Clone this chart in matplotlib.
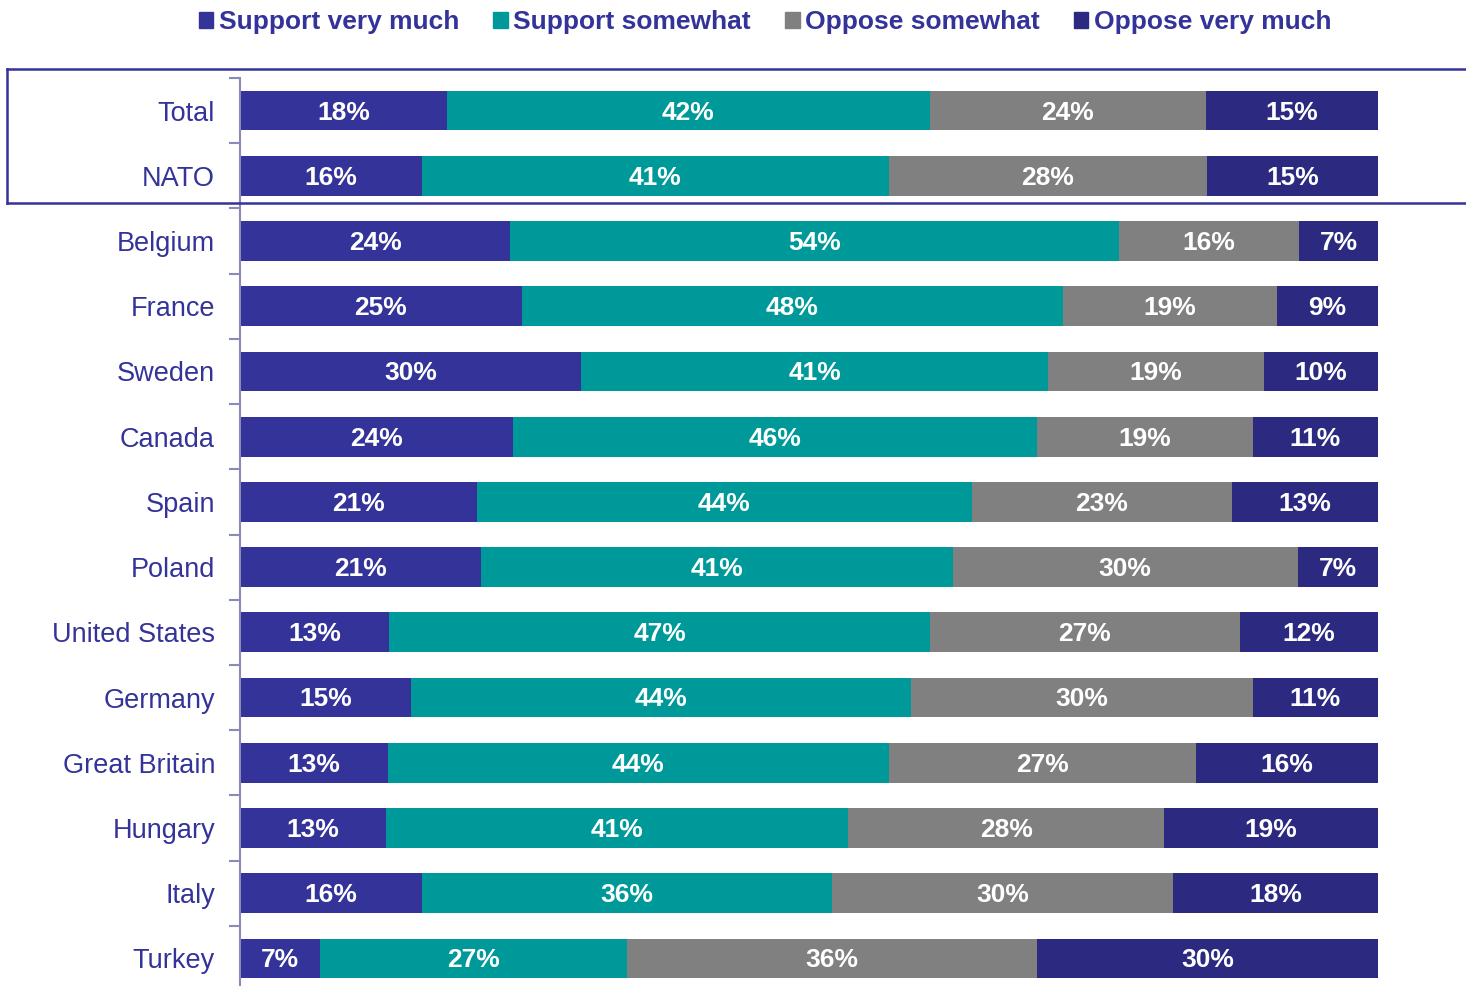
import numpy as np
import matplotlib.pyplot as plt
from matplotlib.patches import Rectangle
from matplotlib.lines import Line2D

countries = ["Total", "NATO", "Belgium", "France", "Sweden", "Canada", "Spain",
             "Poland", "United States", "Germany", "Great Britain", "Hungary",
             "Italy", "Turkey"]
support_very = [18, 16, 24, 25, 30, 24, 21, 21, 13, 15, 13, 13, 16, 7]
support_some = [42, 41, 54, 48, 41, 46, 44, 41, 47, 44, 44, 41, 36, 27]
oppose_some = [24, 28, 16, 19, 19, 19, 23, 30, 27, 30, 27, 28, 30, 36]
oppose_very = [15, 15, 7, 9, 10, 11, 13, 7, 12, 11, 16, 19, 18, 30]

series_names = ["Support very much", "Support somewhat", "Oppose somewhat", "Oppose very much"]
colors = ["#333399", "#009999", "#808080", "#2B2A80"]
text_col = "#333399"

plt.rcParams['font.family'] = ['Liberation Sans', 'DejaVu Sans']

W, H = 1466, 986
fig = plt.figure(figsize=(W / 100, H / 100), dpi=100)

top_px, bot_px = 78, 991
ax = fig.add_axes([240 / W, (H - bot_px) / H, (1378 - 240) / W, (bot_px - top_px) / H])

data = np.array([support_very, support_some, oppose_some, oppose_very], dtype=float)
shares = data / data.sum(axis=0) * 100
y = np.arange(len(countries))

left = np.zeros(len(countries))
for i in range(4):
    ax.barh(y, shares[i], left=left, height=0.61, color=colors[i], edgecolor='none')
    for j in range(len(countries)):
        ax.text(left[j] + shares[i][j] / 2, y[j] + 0.03, f"{int(data[i][j])}%",
                ha='center', va='center', color='white',
                fontsize=19, fontweight='bold')
    left += shares[i]

ax.set_xlim(0, 100)
ax.set_ylim(len(countries) - 0.5, -0.5)
ax.set_xticks([])
ax.set_yticks(y)
ax.set_yticklabels(countries, fontsize=19.5, color=text_col)
ax.tick_params(axis='y', length=0, pad=18)
ax.set_yticks(np.arange(len(countries) + 1) - 0.5, minor=True)
ax.tick_params(axis='y', which='minor', length=8, width=1.5, color='#8A8AB8', direction='out')
for s in ['top', 'right', 'bottom']:
    ax.spines[s].set_visible(False)
ax.spines['left'].set_color('#8A8AB8')
ax.spines['left'].set_linewidth(1.5)

# box around Total and NATO
fig.add_artist(Line2D([7 / W, 1], [1 - 69 / H, 1 - 69 / H], color=text_col, lw=1.8))
fig.add_artist(Line2D([7 / W, 1], [1 - 203 / H, 1 - 203 / H], color=text_col, lw=1.8))
fig.add_artist(Line2D([7 / W, 7 / W], [1 - 69 / H, 1 - 203 / H], color=text_col, lw=1.8))

handles = [Rectangle((0, 0), 1, 1, color=c) for c in colors]
leg = fig.legend(handles, series_names, loc='center', bbox_to_anchor=(765 / W, 1 - 22 / H),
                 ncol=4, frameon=False, handlelength=0.55, handleheight=0.55,
                 handletextpad=0.2, columnspacing=1.3,
                 prop={'size': 19, 'weight': 'bold'})
for t in leg.get_texts():
    t.set_color(text_col)

fig.savefig("out.png", dpi=100)
